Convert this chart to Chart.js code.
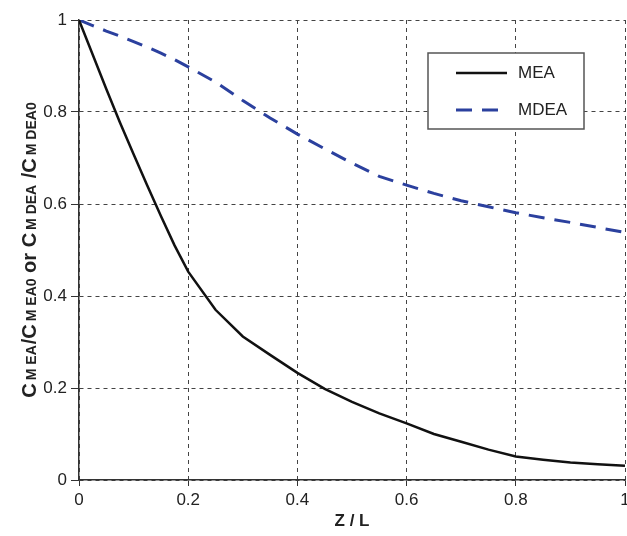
<!DOCTYPE html>
<html>
<head>
<meta charset="utf-8">
<script src="https://cdn.jsdelivr.net/npm/chart.js@4/dist/chart.umd.min.js"></script>
<style>
  html, body { margin: 0; padding: 0; background: #fff; }
  #wrap { width: 627px; height: 536px; }
</style>
</head>
<body>
<div id="wrap"><canvas id="chart" width="627" height="536"></canvas></div>
<script>
// valeurs
var zl = [0, 0.025, 0.05, 0.075, 0.1, 0.125, 0.15, 0.175, 0.2, 0.25, 0.3, 0.35, 0.4, 0.45, 0.5, 0.55, 0.6, 0.65, 0.7, 0.75, 0.8, 0.85, 0.9, 0.95, 1];
var mea = [1.0, 0.925, 0.85, 0.777, 0.708, 0.64, 0.574, 0.51, 0.453, 0.37, 0.312, 0.272, 0.233, 0.198, 0.17, 0.145, 0.123, 0.1, 0.083, 0.066, 0.051, 0.044, 0.038, 0.034, 0.031];
var mdea = [1.0, 0.988, 0.976, 0.965, 0.953, 0.941, 0.928, 0.914, 0.898, 0.865, 0.825, 0.787, 0.752, 0.72, 0.689, 0.66, 0.641, 0.623, 0.607, 0.594, 0.581, 0.57, 0.56, 0.549, 0.538];
var seriesNames = ['MEA', 'MDEA'];
var xTickLabels = ['0', '0.2', '0.4', '0.6', '0.8', '1'];
var yTickLabels = ['0', '0.2', '0.4', '0.6', '0.8', '1'];

var FONT = "'Liberation Sans', Arial, sans-serif";
var TXT = '#222';

function pts(ys) {
    return zl.map(function (x, i) { return { x: x, y: ys[i] }; });
}

// titre vertical avec indices plus petits
var yTitlePlugin = {
    id: 'yTitle',
    afterDraw: function (chart) {
        var ctx = chart.ctx;
        var a = chart.chartArea;
        // [texte, taille, espace après]
        var parts = [
            ['C', 20, 3], ['M EA', 14, 1], ['/C', 20, 3], ['M EA0', 14, 0], [' or ', 20, 0],
            ['C', 20, 3], ['M DEA', 14, 1], [' /C', 20, 3], ['M DEA0', 14, 0]
        ];
        ctx.save();
        var total = 0;
        parts.forEach(function (p) {
            ctx.font = 'bold ' + p[1] + 'px ' + FONT;
            total += ctx.measureText(p[0]).width + p[2];
        });
        ctx.translate(36, (a.top + a.bottom) / 2);
        ctx.rotate(-Math.PI / 2);
        ctx.fillStyle = TXT;
        ctx.textBaseline = 'alphabetic';
        var x = -total / 2;
        parts.forEach(function (p) {
            ctx.font = 'bold ' + p[1] + 'px ' + FONT;
            ctx.fillText(p[0], x, 0);
            x += ctx.measureText(p[0]).width + p[2];
        });
        ctx.restore();
    }
};

// légende encadrée dans la zone du graphe
var boxLegendPlugin = {
    id: 'boxLegend',
    afterDatasetsDraw: function (chart) {
        var ctx = chart.ctx;
        var bx = 428, by = 53, bw = 156, bh = 76;
        ctx.save();
        ctx.fillStyle = '#fff';
        ctx.fillRect(bx, by, bw, bh);
        ctx.strokeStyle = '#555';
        ctx.lineWidth = 1.5;
        ctx.strokeRect(bx, by, bw, bh);
        chart.data.datasets.forEach(function (ds, i) {
            var yy = by + 20 + i * 37;
            ctx.strokeStyle = ds.borderColor;
            ctx.lineWidth = ds.borderWidth;
            ctx.setLineDash(ds.borderDash || []);
            ctx.beginPath();
            ctx.moveTo(456, yy);
            ctx.lineTo(507, yy);
            ctx.stroke();
            ctx.setLineDash([]);
            ctx.fillStyle = TXT;
            ctx.font = '17px ' + FONT;
            ctx.textBaseline = 'middle';
            ctx.fillText(ds.label, 518, yy);
        });
        ctx.restore();
    }
};

var gridOpts = {
    color: '#444',
    lineWidth: 1,
    tickColor: '#333',
    drawTicks: true
};

new Chart(document.getElementById('chart'), {
    type: 'line',
    data: {
        datasets: [{
            label: seriesNames[0],
            data: pts(mea),
            borderColor: '#111',
            borderWidth: 2.5,
            pointRadius: 0,
            tension: 0,
            fill: false
        }, {
            label: seriesNames[1],
            data: pts(mdea),
            borderColor: '#2B409E',
            borderWidth: 3,
            borderDash: [16, 10],
            pointRadius: 0,
            tension: 0,
            fill: false
        }]
    },
    options: {
        responsive: false,
        animation: false,
        layout: { padding: { top: 20, right: 2, left: 0, bottom: 0 } },
        plugins: {
            legend: { display: false },
            tooltip: { enabled: false }
        },
        scales: {
            x: {
                type: 'linear',
                min: 0,
                max: 1,
                afterFit: function (s) {
                    s.height = 56;
                    s.paddingRight = 0;
                    s.paddingLeft = 0;
                },
                afterBuildTicks: function (s) {
                    s.ticks = xTickLabels.map(function (t) { return { value: parseFloat(t) }; });
                },
                ticks: {
                    color: TXT,
                    font: { family: FONT, size: 17 },
                    padding: 4,
                    maxRotation: 0,
                    callback: function (v, i) { return xTickLabels[i]; }
                },
                grid: Object.assign({ tickLength: 6 }, gridOpts),
                border: { display: true, color: '#333', width: 1.5, dash: [4, 4] },
                title: {
                    display: true,
                    text: 'Z / L',
                    color: TXT,
                    font: { family: FONT, size: 17, weight: 'bold' },
                    padding: { top: 4, bottom: 4 }
                }
            },
            y: {
                type: 'linear',
                min: 0,
                max: 1,
                afterFit: function (s) { s.width = 79; },
                afterBuildTicks: function (s) {
                    s.ticks = yTickLabels.map(function (t) { return { value: parseFloat(t) }; });
                },
                ticks: {
                    color: TXT,
                    font: { family: FONT, size: 17 },
                    padding: 4,
                    callback: function (v, i) { return yTickLabels[i]; }
                },
                grid: Object.assign({ tickLength: 8 }, gridOpts),
                border: { display: true, color: '#333', width: 1.5, dash: [4, 4] }
            }
        }
    },
    plugins: [yTitlePlugin, boxLegendPlugin]
});
</script>
</body>
</html>
